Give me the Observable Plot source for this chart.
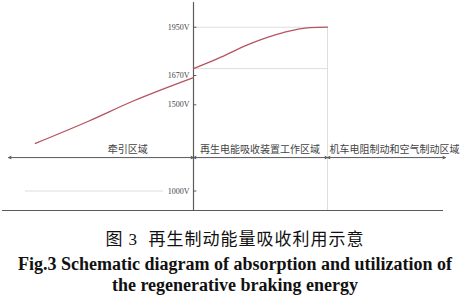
<!DOCTYPE html>
<html><head><meta charset="utf-8">
<script src="https://cdn.jsdelivr.net/npm/d3@7"></script>
<script src="https://cdn.jsdelivr.net/npm/@observablehq/plot@0.6"></script>
<style>
body{margin:0;background:#fff;width:470px;height:304px;overflow:hidden}
#cap{text-align:center;color:#111}
#cap .zh{font-family:"Liberation Serif","Noto Sans CJK SC",serif;font-size:17px;line-height:22px;margin-top:14px;letter-spacing:1px}
#cap .en{font-family:"Liberation Serif",serif;font-weight:bold;font-size:18px;line-height:21px;margin-top:3px}
</style></head>
<body>
<div id="chart"></div>
<div id="cap"><div class="zh">图 3&nbsp; 再生制动能量吸收利用示意</div>
<div class="en">Fig.3 Schematic diagram of absorption and utilization of<br>the regenerative braking energy</div></div>
<script>
// x: position units (0 = start of regeneration zone, 1 = end of it)
// Traction zone voltage (left of axis)
const tractionX = [-1.18, -0.78, -0.45, 0];
const tractionV = [1276, 1406, 1522, 1658];
// Regenerative absorption zone voltage
const regenX = [0, 0.18, 0.425, 0.67, 0.87, 1];
const regenV = [1710, 1768, 1855, 1919, 1948, 1950];
// Voltage tick labels
const tickValues = [1950, 1670, 1500, 1000];
const tickLabels = ["1950V", "1670V", "1500V", "1000V"];
// Zones
const zoneNames = ["牵引区域", "再生电能吸收装置工作区域", "机车电阻制动和空气制动区域"];
const zoneStart = [-1.38, 0, 1];
const zoneEnd = [0, 1, 1.88];
const zoneLabelX = [-0.49, 0.496, 1.5];
const zoneLineV = 1194, zoneLabelV = 1241;

const trac = tractionX.map((x, i) => ({x, v: tractionV[i]}));
const regen = regenX.map((x, i) => ({x, v: regenV[i]}));
const ticks = tickValues.map((v, i) => ({v, label: tickLabels[i]}));
const zones = zoneNames.map((name, i) => ({name, s: zoneStart[i], e: zoneEnd[i], m: (zoneStart[i] + zoneEnd[i]) / 2, lx: zoneLabelX[i]}));

const axisColor = "#5a5a5a", gridColor = "#dedede", curveColor = "#b5545e";
const plot = Plot.plot({
  width: 470, height: 215,
  marginTop: 0, marginBottom: 0, marginLeft: 0, marginRight: 0,
  x: {domain: [-1.4403, 2.0672], axis: null},
  y: {domain: [858, 2105], axis: null},
  marks: [
    // grid lines
    Plot.ruleY([1950, 1710], {x1: 0, x2: 1, stroke: gridColor, strokeWidth: 1}),
    Plot.ruleY([1000], {x1: -1.254, x2: -0.224, stroke: gridColor, strokeWidth: 1.2}),
    Plot.ruleX([1], {y1: 887, y2: 1950, stroke: gridColor, strokeWidth: 1}),
    // baseline and vertical axis
    Plot.ruleY([887], {x1: -1.425, x2: 1.866, stroke: axisColor, strokeWidth: 1}),
    Plot.ruleX([0], {y1: 887, y2: 2093, stroke: axisColor, strokeWidth: 1.2}),
    // tick marks and labels
    Plot.ruleY(ticks, {y: "v", x1: 0, x2: 0.025, stroke: axisColor, strokeWidth: 1}),
    Plot.text(ticks, {x: 0, y: "v", text: "label", textAnchor: "end", dx: -4, fontSize: 8, fontFamily: "Liberation Serif", fill: "#444"}),
    // zone arrows (double-headed)
    Plot.arrow(zones, {x1: "m", x2: "s", y1: zoneLineV, y2: zoneLineV, stroke: axisColor, strokeWidth: 1, headLength: 4, headAngle: 50}),
    Plot.arrow(zones, {x1: "m", x2: "e", y1: zoneLineV, y2: zoneLineV, stroke: axisColor, strokeWidth: 1, headLength: 4, headAngle: 50}),
    Plot.text(zones, {x: "lx", y: zoneLabelV, text: "name", fontSize: 10, fontFamily: "Noto Sans CJK SC", fill: "#444"}),
    // voltage curves
    Plot.line(trac, {x: "x", y: "v", stroke: curveColor, strokeWidth: 1.3, curve: "monotone-x"}),
    Plot.line(regen, {x: "x", y: "v", stroke: curveColor, strokeWidth: 1.3, curve: "monotone-x"})
  ]
});
document.getElementById("chart").append(plot);
</script>
</body></html>
